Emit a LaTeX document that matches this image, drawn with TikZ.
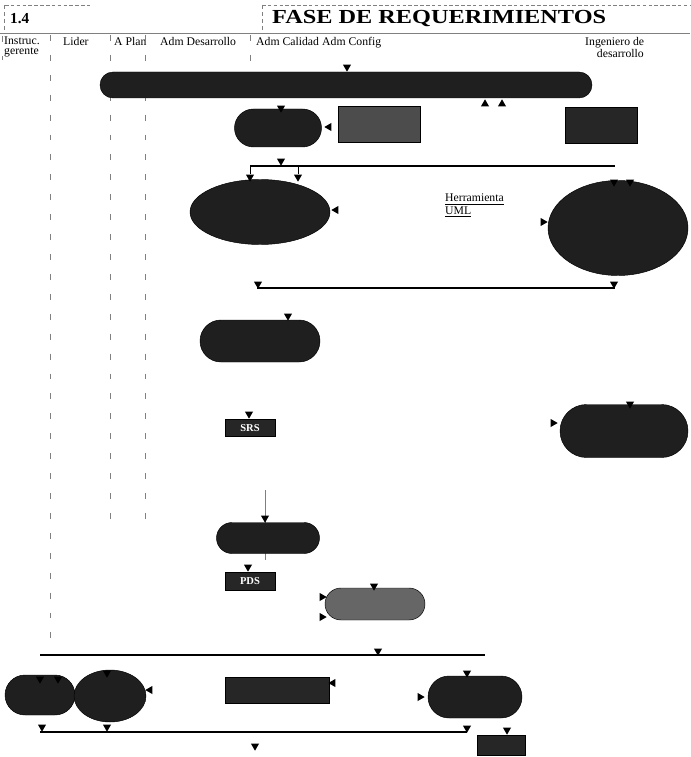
\documentclass[tikz,border=0pt]{standalone}
\usepackage{fontspec}
\setmainfont{Liberation Serif}
\usetikzlibrary{arrows.meta, positioning, shapes.geometric, shapes.misc}

\begin{document}
\begin{tikzpicture}[
    x=0.3mm, y=-0.3mm,
    sz/.style 2 args={minimum width=#1*0.3mm, minimum height=#2*0.3mm},
    act/.style={draw, fill=black!88, rounded rectangle, inner sep=0pt},
    bigact/.style={draw, fill=black!88, ellipse, inner sep=0pt},
    doc/.style={draw, fill=black!85, inner sep=0pt, font=\fontsize{9}{10}\selectfont\bfseries, text=white},
    lane/.style={font=\fontsize{10}{8.5}\selectfont, align=left, anchor=north west, inner sep=0pt},
    mk/.style={regular polygon, regular polygon sides=3, fill=black, inner sep=0pt, minimum size=2.8mm, shape border rotate=#1},
    mk/.default=180,
    bar/.style={line width=1.1pt},
    lanesep/.style={gray, dash pattern=on 5pt off 12pt},
]
\useasboundingbox (0,0) rectangle (690,757);

% Header
\draw[gray, densely dashed] (5,5) -- (90,5);
\draw[gray, densely dashed] (262,5) -- (690,5);
\draw[gray, dashed] (4,5) -- (4,30);
\draw[gray, dashed] (262,5) -- (262,30);
\draw[gray] (0,33) -- (690,33);
\node[font=\fontsize{13}{15}\selectfont\bfseries, anchor=west, inner sep=0pt] (num) at (10,19) {1.4};
\node[font=\fontsize{17}{20}\selectfont\bfseries, anchor=west, inner sep=0pt] (fase) at (272,19) {\scalebox{1.22}[1]{FASE DE REQUERIMIENTOS}};

% Lanes
\node[lane] (gerente) at (4,37) {Instruc.\\gerente};
\node[lane] (lider) at (63,37) {Lider};
\node[lane] (aplan) at (114,37) {A Plan};
\node[lane] (admdes) at (160,37) {Adm Desarrollo};
\node[lane] (admcal) at (256,37) {Adm Calidad};
\node[lane] (admconf) at (322,37) {Adm Config};
\node[lane] (ingdes) at (585,37) {Ingeniero de\\\hspace*{10pt}desarrollo};
\draw[lanesep] (2,36) -- (2,60);
\draw[lanesep] (50,35) -- (50,645);
\draw[lanesep] (110,35) -- (110,520);
\draw[lanesep] (145,35) -- (145,520);
\draw[lanesep] (250,35) -- (250,62);

% Row 1: kickoff
\node[act, sz={492}{26}] (kickoff) at (346,85) {};
\node[mk] (k1) at (347,67) {};
\node[mk=0] (k2) at (485,104) {};
\node[mk=0] (k3) at (502,104) {};

% Row 2: planning and element boxes
\node[act, sz={87}{38}] (plan) at (278,128) {};
\node[mk] (p1) at (281,108) {};
\node[mk=90] (p2) at (329,127) {};
\node[doc, sz={82}{36}, fill=black!70] (clasif) at (379,124) {};
\node[doc, sz={72}{36}] (defin) at (601,125) {};

% Row 3: fork bar and analysis
\coordinate (b1w) at (250,166);
\coordinate (b1e) at (615,166);
\draw[bar] (b1w) -- (b1e);
\node[mk] (b1m) at (281,161) {};
\node[bigact, sz={140}{65}] (analisis) at (260,212) {};
\node[bigact, sz={140}{95}] (modelo) at (618,228) {};
\draw (b1w) -- ++(0,8);
\draw (298,166) -- ++(0,8);
\node[mk] (a1) at (250,177) {};
\node[mk] (a2) at (298,177) {};
\node[mk=90] (a3) at (336,210) {};
\node[mk] (m1) at (614,182) {};
\node[mk] (m2) at (630,182) {};
\node[mk=270] (m3) at (543,222) {};
\node[font=\fontsize{10}{11}\selectfont, align=left, anchor=north west, inner sep=0pt] (uml) at (445,194) {\underline{Herramienta}\\\underline{UML}};

% Row 4: join bar
\coordinate (b2w) at (257,288);
\coordinate (b2e) at (615,288);
\draw[bar] (b2w) -- (b2e);
\node[mk] (j1) at (258,284) {};
\node[mk] (j2) at (614,284) {};

% Row 5: review and SRS
\node[act, sz={120}{42}] (revision) at (260,341) {};
\node[mk] (r1) at (288,316) {};
\node[doc, sz={50}{17}] (srs) at (250,428) {SRS};
\node[mk] (s1) at (249,414) {};
\node[act, sz={128}{53}] (detalle) at (624,431) {};
\node[mk] (d1) at (630,404) {};
\node[mk=270] (d2) at (553,423) {};

% Row 6: approval and PDS
\draw[gray] (265,490) -- (265,560);
\node[act, sz={103}{31}] (aprob) at (268,538) {};
\node[mk] (ap1) at (265,518) {};
\node[doc, sz={50}{18}] (pds) at (250,581) {PDS};
\node[mk] (ps1) at (248,567) {};
\node[act, sz={100}{32}, fill=black!60] (calidad) at (375,604) {};
\node[mk] (c1) at (374,586) {};
\node[mk=270] (c2) at (322,597) {};
\node[mk=270] (c3) at (322,617) {};

% Row 7: closing bars
\coordinate (b3w) at (40,655);
\coordinate (b3e) at (485,655);
\draw[bar] (b3w) -- (b3e);
\node[mk] (b3m) at (378,651) {};
\node[act, sz={70}{40}] (entrega) at (40,695) {};
\node[bigact, sz={72}{52}] (acepta) at (110,696) {};
\node[mk] (e1) at (40,679) {};
\node[mk] (e2) at (58,679) {};
\node[mk] (e3) at (107,673) {};
\node[mk=90] (e4) at (150,690) {};
\node[doc, sz={104}{26}] (solicitud) at (277,690) {};
\node[mk=90] (so1) at (333,683) {};
\node[act, sz={94}{42}] (cierre) at (475,697) {};
\node[mk] (ci1) at (467,673) {};
\node[mk=270] (ci2) at (420,697) {};
\coordinate (b4w) at (40,732);
\coordinate (b4e) at (467,732);
\draw[bar] (b4w) -- (b4e);
\node[mk] (b4a) at (42,727) {};
\node[mk] (b4b) at (107,727) {};
\node[mk] (b4c) at (467,728) {};
\node[doc, sz={48}{20}] (acta) at (501,745) {};
\node[mk] (ac1) at (507,730) {};
\node[mk] (fin) at (255,746) {};

\end{tikzpicture}
\end{document}
